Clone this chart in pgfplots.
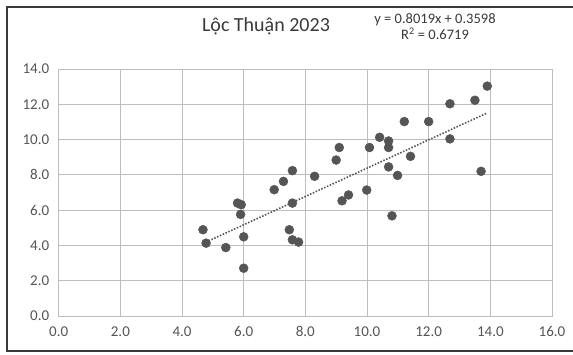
\documentclass[border=0pt]{standalone}
\usepackage{pgfplots}
\pgfplotsset{compat=1.18}
\usepackage{fontspec}
\setmainfont{Carlito}
\definecolor{ptc}{HTML}{555555}
\definecolor{gridc}{HTML}{BDBDBD}
\definecolor{txtc}{HTML}{555555}
\definecolor{framec}{HTML}{3A3A3A}
\newcommand{\tl}[1]{{\fontsize{15}{15}\selectfont\pgfmathprintnumber[fixed,fixed zerofill,precision=1,assume math mode=true]{#1}}}
\begin{document}
\begin{tikzpicture}
\useasboundingbox (0pt,0pt) rectangle (573pt,-354pt);
\fill[white] (0pt,0pt) rectangle (573pt,-354pt);
\draw[framec, line width=2pt] (573pt,-7pt) -- (7pt,-7pt) -- (7pt,-351pt) -- (573pt,-351pt);
\begin{axis}[
  at={(58.7pt,-316pt)}, anchor=south west,
  scale only axis, width=493.3pt, height=247pt,
  xmin=0, xmax=16, ymin=0, ymax=14,
  xtick={0,2,...,16}, ytick={0,2,...,14},
  grid=major, major grid style={gridc, line width=0.9pt},
  axis line style={gridc, line width=0.9pt},
  tick style={draw=none},
  xticklabel={\tl{\tick}},
  yticklabel={\tl{\tick}},
  tick label style={text=txtc},
  xticklabel style={yshift=-7pt},
  yticklabel style={xshift=-6pt},
]
\addplot[only marks, mark=*, mark size=4.5pt, mark options={fill=ptc, draw=ptc}] coordinates {
(4.68,4.89) (4.78,4.13) (5.42,3.88) (5.80,6.40) (5.92,6.31) (5.90,5.76)
(6.00,4.49) (6.00,2.71) (6.99,7.16) (7.29,7.63) (7.58,6.40) (7.48,4.89)
(7.58,4.32) (7.78,4.19) (7.58,8.24)
(8.30,7.92) (9.10,9.55) (9.00,8.84) (9.19,6.53) (9.40,6.86) (9.99,7.14)
(10.08,9.55) (10.41,10.13) (10.70,9.92) (10.70,9.55) (10.70,8.45)
(10.99,7.97) (11.41,9.05) (11.21,11.02) (12.00,11.02) (12.69,12.03)
(12.69,10.04) (13.50,12.23) (13.90,13.03) (13.70,8.20) (10.81,5.68)
};
\addplot[ptc, line width=1.6pt, dash pattern=on 1.5pt off 1.6pt] coordinates {(4.68,4.11) (13.90,11.51)};
\end{axis}
\node[text=framec, font=\fontsize{20}{20}\selectfont] at (266pt,-26pt) {Lộc Thuận 2023};
\node[text=framec, font=\fontsize{14.5}{14.5}\selectfont] at (435pt,-20pt) {y = 0.8019x + 0.3598};
\node[text=framec, font=\fontsize{14.5}{14.5}\selectfont] at (435pt,-34pt) {R\textsuperscript{2} = 0.6719};
\end{tikzpicture}
\end{document}
